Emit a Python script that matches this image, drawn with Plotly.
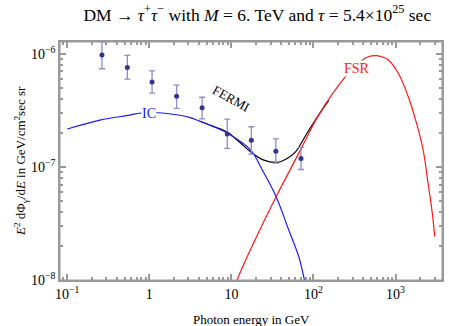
import numpy as np
import plotly.graph_objects as go

# Fermi data points (GeV, flux) with asymmetric errors
fermi_E     = [0.265, 0.54, 1.08, 2.15, 4.4, 8.9, 17.5, 34.8, 70.5]
fermi_flux  = [9.8e-7, 7.6e-7, 5.65e-7, 4.23e-7, 3.35e-7, 1.96e-7, 1.72e-7, 1.38e-7, 1.19e-7]
fermi_upper = [1.28e-6, 9.7e-7, 7.1e-7, 5.3e-7, 4.14e-7, 2.65e-7, 2.27e-7, 1.77e-7, 1.49e-7]
fermi_lower = [7.4e-7, 6.0e-7, 4.5e-7, 3.3e-7, 2.67e-7, 1.46e-7, 1.30e-7, 1.08e-7, 9.5e-8]

# inverse Compton (blue)
ic_E    = [0.1, 0.25, 0.575, 0.76, 1.0, 1.27, 1.93, 3.07, 4.06, 8.95, 17.2, 23.8, 35.1, 50.0, 66.2, 77.6, 82.0]
ic_flux = [2.17e-7, 2.6e-7, 2.88e-7, 2.99e-7, 3.03e-7, 3.02e-7, 2.93e-7, 2.75e-7, 2.55e-7,
           1.99e-7, 1.41e-7, 9.4e-8, 5.46e-8, 2.77e-8, 1.61e-8, 1.0e-8, 8.0e-9]

# final state radiation (red)
fsr_E    = [11.2, 11.8, 19.4, 35.1, 69.3, 115.6, 254.7, 344, 467, 589, 690, 816, 1080, 1428, 1800, 2170, 2490, 2806, 3005]
fsr_flux = [8.5e-9, 1.0e-8, 2.26e-8, 5.46e-8, 1.41e-7, 2.88e-7, 6.52e-7, 8.2e-7, 9.46e-7, 9.66e-7, 9.4e-7,
            8.85e-7, 6.75e-7, 4.19e-7, 2.44e-7, 1.41e-7, 7.18e-8, 3.89e-8, 2.42e-8]

# total (black)
tot_E    = [4.06, 5.83, 8.95, 12.4, 17.2, 24.9, 36.1, 47.8, 60.4, 83.4, 115.6, 153]
tot_flux = [2.55e-7, 2.31e-7, 2.03e-7, 1.67e-7, 1.36e-7, 1.15e-7, 1.10e-7, 1.19e-7, 1.36e-7, 1.99e-7, 2.88e-7, 3.86e-7]

x_tickvals = [0.1, 1, 10, 100, 1000]
x_ticktext = ['10<sup>\u22121</sup>', '1', '10', '10<sup>2</sup>', '10<sup>3</sup>']
y_tickvals = [1e-8, 1e-7, 1e-6]
y_ticktext = ['10<sup>\u22128</sup>', '10<sup>\u22127</sup>', '10<sup>\u22126</sup>']

x_minor = [0.09] + [m * d for d in [0.1, 1, 10, 100] for m in range(2, 10)] + [2000, 3000]
y_minor = [m * d for d in [1e-8, 1e-7] for m in range(2, 10)]

FONT = 'Liberation Serif'
AXC = '#999999'
XR = [-1.088, 3.566]
YR = [-8, -5.894]

fig = go.Figure()

fig.add_trace(go.Scatter(x=tot_E, y=tot_flux, mode='lines', line=dict(color='black', width=1.2, shape='spline'),
                         showlegend=False))
fig.add_trace(go.Scatter(x=ic_E, y=ic_flux, mode='lines', line=dict(color='#1a1aff', width=1.2, shape='spline'),
                         showlegend=False))
fig.add_trace(go.Scatter(x=fsr_E, y=fsr_flux, mode='lines', line=dict(color='#ff1a1a', width=1.2, shape='spline'),
                         showlegend=False))

fig.add_trace(go.Scatter(
    x=fermi_E, y=fermi_flux, mode='markers',
    marker=dict(color='#34348f', size=5),
    error_y=dict(type='data', symmetric=False,
                 array=list(np.array(fermi_upper) - np.array(fermi_flux)),
                 arrayminus=list(np.array(fermi_flux) - np.array(fermi_lower)),
                 color='#8c8cc6', thickness=1.3, width=3),
    showlegend=False))

# invisible copy on the overlay axes so the minor tick axes get drawn
fig.add_trace(go.Scatter(x=fermi_E, y=fermi_flux, mode='markers', marker=dict(opacity=0),
                         xaxis='x2', yaxis='y2', hoverinfo='skip', showlegend=False))

fig.add_annotation(x=0.0, y=-6.531, text='IC', showarrow=False, bgcolor='white', borderpad=0,
                   font=dict(family=FONT, size=14, color='#1a1aff'))
fig.add_annotation(x=2.53, y=-6.127, text='FSR', showarrow=False, bgcolor='white', borderpad=0,
                   font=dict(family=FONT, size=14, color='#ff1a1a'))
fig.add_annotation(x=0.996, y=-6.398, text='FERMI', showarrow=False, textangle=29,
                   font=dict(family=FONT, size=13, color='black'))

# axis titles placed as annotations next to the frame
fig.add_annotation(xref='paper', yref='paper', x=0, y=0.5, xshift=-39, xanchor='center', yanchor='middle',
                   text='<i>E</i><sup>2</sup> d\u03a6<sub>\u03b3</sub>/d<i>E</i> in GeV/cm<sup>2</sup>sec sr',
                   textangle=-90, showarrow=False, font=dict(family=FONT, size=13, color='black'))
fig.add_annotation(xref='paper', yref='paper', x=0.5, y=0, yshift=-39, xanchor='center', yanchor='middle',
                   text='Photon energy in GeV', showarrow=False, font=dict(family=FONT, size=13, color='black'))

# plot frame
fig.add_shape(type='rect', xref='paper', yref='paper', x0=0, y0=0, x1=1, y1=1,
              line=dict(color=AXC, width=1), layer='above')

axis_common = dict(type='log', showgrid=False, zeroline=False, showline=True, linecolor=AXC, linewidth=1.5,
                   mirror='allticks', ticks='inside', tickcolor=AXC, tickwidth=1.5)

fig.update_layout(
    width=449, height=326,
    margin=dict(l=60, r=5, t=42, b=46),
    plot_bgcolor='white', paper_bgcolor='white',
    xaxis=dict(range=XR, tickmode='array', tickvals=x_tickvals, ticktext=x_ticktext, ticklen=6,
               tickfont=dict(family=FONT, size=14, color='black'), **axis_common),
    yaxis=dict(range=YR, tickmode='array', tickvals=y_tickvals, ticktext=y_ticktext, ticklen=6,
               tickfont=dict(family=FONT, size=14, color='black'), **axis_common),
    xaxis2=dict(range=XR, overlaying='x', anchor='y', side='bottom', tickmode='array', tickvals=x_minor,
                ticklen=3, showticklabels=False, **axis_common),
    yaxis2=dict(range=YR, overlaying='y', anchor='x', side='left', tickmode='array', tickvals=y_minor,
                ticklen=3, showticklabels=False, **axis_common),
    title=dict(text='DM \u2192 <i>\u03c4</i><sup>+</sup><i>\u03c4</i><sup>\u2212</sup> with <i>M</i> = 6. TeV and '
                    '<i>\u03c4</i> = 5.4\u00d710<sup>25</sup> sec',
               x=0.573, xanchor='center', y=0.955, yanchor='middle',
               font=dict(family=FONT, size=17.5, color='black')),
)

# drop the default page margin so the figure sits at the window's corner
fig.write_html("out.html", config={'displayModeBar': False},
               post_script="document.body.style.margin='0';")
